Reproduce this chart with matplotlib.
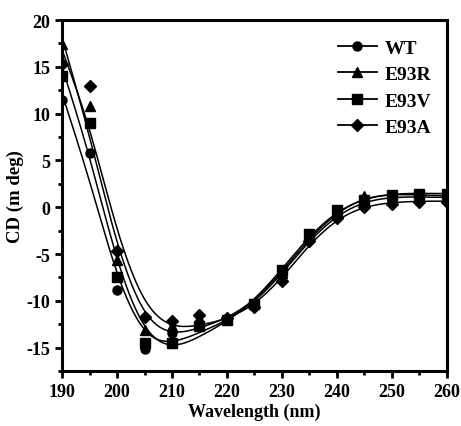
import numpy as np
import matplotlib
matplotlib.use("Agg")
import matplotlib.pyplot as plt
from matplotlib.ticker import MultipleLocator

plt.rcParams['font.family'] = ['Liberation Serif', 'DejaVu Serif']
plt.rcParams['font.weight'] = 'bold'
plt.rcParams['axes.unicode_minus'] = False

wavelength = [190, 195, 200, 205, 210, 215, 220, 225, 230, 235, 240, 245, 250, 255, 260]
wt   = [11.5, 5.8, -8.8, -15.2, -13.4, -12.5, -12.0, -10.5, -7.3, -3.3, -0.8, 0.6, 0.9, 1.0, 1.0]
e93r = [17.4, 10.8, -5.6, -13.1, -12.7, -11.8, -11.8, -10.3, -7.0, -3.1, -0.6, 1.2, 1.1, 1.2, 1.2]
e93v = [14.0, 9.0, -7.5, -14.5, -14.5, -12.7, -12.0, -10.3, -6.7, -2.9, -0.3, 0.8, 1.3, 1.4, 1.4]
e93a = [15.3, 12.9, -4.7, -11.7, -12.2, -11.5, -11.8, -10.7, -7.9, -3.6, -1.1, 0.0, 0.3, 0.6, 0.6]
names = ["WT", "E93R", "E93V", "E93A"]
markers = ["o", "^", "s", "D"]


def smooth(x, y, lam=8.0):
    # penalised fit on a fine grid (Whittaker style) to get the smooth curves
    grid = np.arange(x[0], x[-1] + 0.25, 0.25)
    n = len(grid)
    w = np.zeros(n)
    target = np.zeros(n)
    for xi, yi in zip(x, y):
        k = int(round((xi - grid[0]) / 0.25))
        w[k] = 1.0
        target[k] = yi
    D = np.diff(np.eye(n), 2, axis=0)
    z = np.linalg.solve(np.diag(w) + lam * 400 * D.T @ D, w * target)
    return grid, z


fig = plt.figure(figsize=(4.61, 4.27), dpi=100)
ax = fig.add_axes([0.1345, 0.1288, 0.8351, 0.822])

for vals, name, m in zip([wt, e93r, e93v, e93a], names, markers):
    gx, gy = smooth(wavelength, vals)
    ax.plot(gx, gy, color='black', lw=1.1)
    ax.plot(wavelength, vals, ls='none', marker=m, color='black',
            ms=6.5 if m != 'D' else 6)
    ax.plot([], [], color='black', lw=1.3, marker=m, ms=6.5 if m != 'D' else 6, label=name)

ax.set_xlim(190, 260)
ax.set_ylim(-17.5, 20)
ax.xaxis.set_major_locator(MultipleLocator(10))
ax.xaxis.set_minor_locator(MultipleLocator(5))
ax.yaxis.set_major_locator(MultipleLocator(5))
ax.yaxis.set_minor_locator(MultipleLocator(2.5))
ax.tick_params(which='major', direction='out', length=5, width=2, labelsize=13)
ax.tick_params(which='minor', direction='out', length=3, width=2)
for s in ax.spines.values():
    s.set_linewidth(2.2)

ax.set_xlabel("Wavelength (nm)", fontsize=13, fontweight='bold', labelpad=2)
ax.set_ylabel("CD (m deg)", fontsize=13.5, fontweight='bold', labelpad=2)

ax.legend(loc='upper left', frameon=False, fontsize=14, handlelength=2.0,
          handletextpad=0.4, labelspacing=0.46, borderpad=0, borderaxespad=0,
          bbox_to_anchor=(338 / 461, 1 - 40 / 427), bbox_transform=fig.transFigure)

fig.savefig("out.png", dpi=100)
